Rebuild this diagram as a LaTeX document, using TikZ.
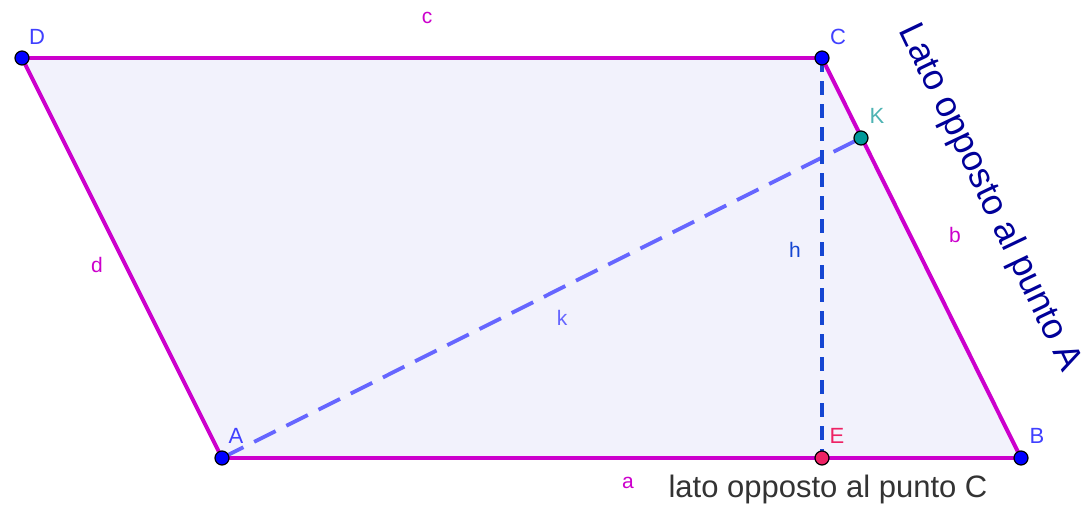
\documentclass[tikz,border=0pt]{standalone}
\usepackage{fontspec}
\setmainfont{Liberation Sans}
\definecolor{seg}{RGB}{204,0,204}
\definecolor{fillc}{RGB}{242,242,252}
\definecolor{ptblue}{RGB}{0,0,255}
\definecolor{lblblue}{RGB}{64,64,255}
\definecolor{hcol}{RGB}{21,70,210}
\definecolor{kcol}{RGB}{102,102,255}
\definecolor{kpt}{RGB}{0,153,153}
\definecolor{klbl}{RGB}{77,179,179}
\definecolor{ecol}{RGB}{238,34,100}
\definecolor{navy}{RGB}{0,0,153}
\definecolor{txtgray}{RGB}{51,51,51}
\tikzset{
  side/.style={draw=seg, line width=4pt},
  pt/.style={circle, draw=black, line width=1.2pt, inner sep=0pt, minimum size=14pt},
  plbl/.style={text=lblblue, font=\fontsize{22}{22}\selectfont, inner sep=0pt},
  slbl/.style={text=seg, font=\fontsize{21}{21}\selectfont, inner sep=0pt},
}
\begin{document}
\begin{tikzpicture}[x=1pt,y=-1pt]
\useasboundingbox (0,0) rectangle (1088,506);
\coordinate (A) at (222,458);
\coordinate (B) at (1021,458);
\coordinate (C) at (822,58);
\coordinate (D) at (22,58);
\coordinate (E) at (822,458);
\coordinate (K) at (861,138);
\fill[fillc] (A) -- (B) -- (C) -- (D) -- cycle;
\draw[kcol, line width=3.8pt, dash pattern=on 24pt off 12pt] (A) -- (K);
\draw[hcol, line width=4.8pt, dash pattern=on 14pt off 9pt] (C) -- (E);
\draw[side] (A) -- (B);
\draw[side] (B) -- (C);
\draw[side] (C) -- (D);
\draw[side] (D) -- (A);
\node[pt, fill=ptblue] (nA) at (A) {};
\node[pt, fill=ptblue] (nB) at (B) {};
\node[pt, fill=ptblue] (nC) at (C) {};
\node[pt, fill=ptblue] (nD) at (D) {};
\node[pt, fill=ecol] (nE) at (E) {};
\node[pt, fill=kpt] (nK) at (K) {};
\node[plbl] (lD) at (37,37) {D};
\node[plbl] (lC) at (838,37) {C};
\node[plbl, text=klbl] (lK) at (877,116) {K};
\node[plbl] (lA) at (236,436) {A};
\node[plbl, text=ecol] (lE) at (837,436) {E};
\node[plbl] (lB) at (1037,436) {B};
\node[slbl] (lc) at (427,18) {c};
\node[slbl] (ld) at (97,265) {d};
\node[slbl] (lb) at (955,235) {b};
\node[slbl] (la) at (628,483) {a};
\node[slbl, text=hcol] (lh) at (795,250) {h};
\node[slbl, text=kcol] (lk) at (562,318) {k};
\node[text=txtgray, font=\fontsize{31}{31}\selectfont, inner sep=0pt] (tC) at (828,489) {lato opposto al punto C};
\node[text=navy, font=\fontsize{36}{36}\selectfont, inner sep=0pt, rotate=-64.5] (tA) at (989,198) {Lato opposto al punto A};
\end{tikzpicture}
\end{document}
